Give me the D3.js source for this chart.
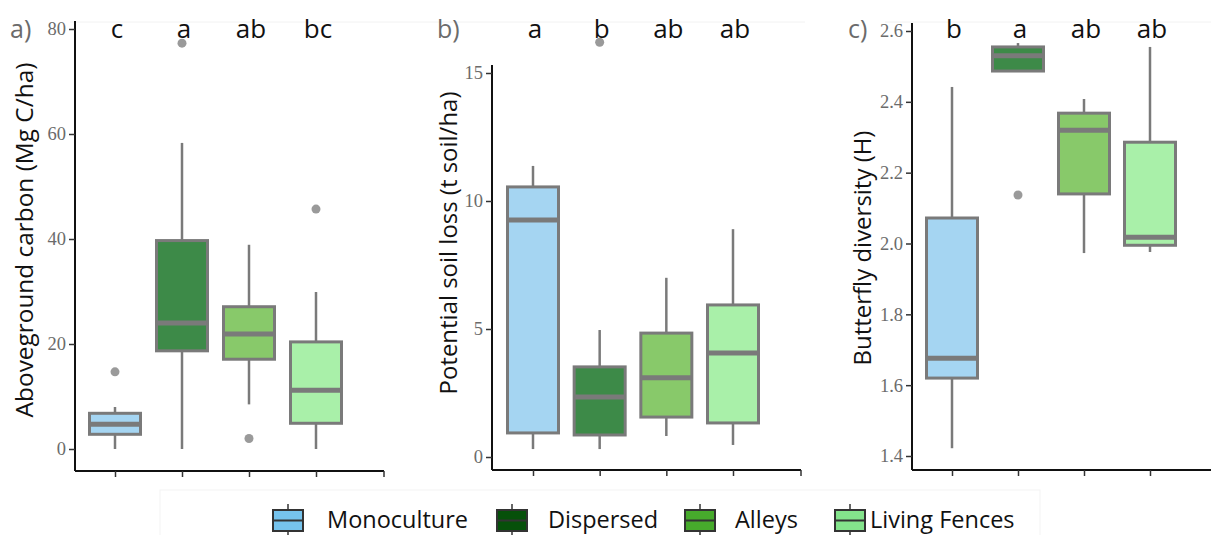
<!DOCTYPE html>
<html><head><meta charset="utf-8">
<script src="https://cdn.jsdelivr.net/npm/d3@7"></script>
<style>body{margin:0;background:#fff}svg{display:block}</style>
</head><body><svg id="c" width="1211" height="535"></svg>
<script>
const categories = ["Monoculture","Dispersed","Alleys","Living Fences"];
const fillColors = ["#a5d5f2","#3d8a48","#88c96a","#a9f0a9"];
const legendColors = ["#76c3ec","#06500a","#47aa2c","#84e48c"];

// [whiskerLow, q1, median, q3, whiskerHigh]
const carbonStats = [[0,2.8,4.7,6.8,8],[0,18.7,24,39.7,58.3],[8.5,17.1,21.9,27.1,38.9],[0,4.9,11.2,20.4,29.9]];
const carbonOutliers = [[14.7],[77.3],[2],[45.7]];
const carbonLetters = ["c","a","ab","bc"];
const carbonTicks = [0,20,40,60,80];

const soilStats = [[0.31,0.94,9.26,10.55,11.37],[0.31,0.86,2.34,3.52,4.96],[0.82,1.56,3.1,4.84,7.0],[0.47,1.33,4.06,5.94,8.9]];
const soilOutliers = [[],[16.2],[],[]];
const soilLetters = ["a","b","ab","ab"];
const soilTicks = [0,5,10,15];

const butterflyStats = [[1.422,1.62,1.676,2.072,2.442],[2.487,2.487,2.53,2.555,2.566],[1.973,2.14,2.32,2.368,2.408],[1.976,1.995,2.018,2.286,2.555]];
const butterflyOutliers = [[],[2.137],[],[]];
const butterflyLetters = ["b","a","ab","ab"];
const butterflyTicks = [1.4,1.6,1.8,2.0,2.2,2.4,2.6];

const svg = d3.select("#c");
const sans = "'Open Sans', 'Noto Sans', sans-serif";
const serif = "'Liberation Serif', 'DejaVu Serif', serif";

// faint panel borders
[[70,22,395],[465,22,340],[885,22,326]].forEach(([x,y,w])=>{
  svg.append("line").attr("x1",x).attr("x2",x+w).attr("y1",y).attr("y2",y).attr("stroke","#f2f2f2");
});
svg.append("rect").attr("x",160).attr("y",490).attr("width",880).attr("height",60).attr("fill","none").attr("stroke","#f3f3f3");

const panels = [
  {tag:"a)", tagX:10, stats:carbonStats, outl:carbonOutliers, letters:carbonLetters, ticks:carbonTicks,
   domain:[0,80], yr:[449,29], axX:75, axEnd:384, xr:[115,316], axY:471, fmt:d3.format("d"),
   title:"Aboveground carbon (Mg C/ha)", titleX:23, titleY:240, titleLen:355},
  {tag:"b)", tagX:437, stats:soilStats, outl:soilOutliers, letters:soilLetters, ticks:soilTicks,
   domain:[0,15], yr:[457,73], axX:492, axEnd:801, xr:[533,733], axY:470, fmt:d3.format("d"),
   title:"Potential soil loss (t soil/ha)", titleX:447, titleY:243, titleLen:303},
  {tag:"c)", tagX:848, stats:butterflyStats, outl:butterflyOutliers, letters:butterflyLetters, ticks:butterflyTicks,
   domain:[1.4,2.6], yr:[456,31], axX:912, axEnd:1215, xr:[952,1150], axY:470, fmt:d3.format(".1f"),
   title:"Butterfly diversity (H)", titleX:861, titleY:248, titleLen:235}
];

const boxW = 51;
panels.forEach(p=>{
  const g = svg.append("g");
  const y = d3.scaleLinear().domain(p.domain).range(p.yr);
  const x = d3.scalePoint().domain(categories).range(p.xr);

  // y axis
  const ya = g.append("g").attr("transform",`translate(${p.axX},0)`)
    .call(d3.axisLeft(y).tickValues(p.ticks).tickFormat(p.fmt).tickSize(6).tickPadding(3));
  ya.select(".domain").attr("d",`M0,${p.yr[1]-8}V${p.axY}`).attr("stroke","#111").attr("stroke-width",2);
  ya.selectAll(".tick line").attr("stroke","#333").attr("stroke-width",1.5);
  ya.selectAll(".tick text").attr("font-family",serif).attr("font-size",18.5).attr("fill","#6b6b6b");

  // x axis
  const xa = g.append("g").attr("transform",`translate(0,${p.axY})`)
    .call(d3.axisBottom(x).tickSize(6).tickFormat(""));
  xa.select(".domain").attr("d",`M${p.axX},0H${p.axEnd}`).attr("stroke","#111").attr("stroke-width",2);
  xa.selectAll(".tick line").attr("stroke","#333").attr("stroke-width",1.5);
  if (p.axEnd < 1211) g.append("line").attr("x1",p.axEnd).attr("x2",p.axEnd).attr("y1",p.axY).attr("y2",p.axY+6).attr("stroke","#333").attr("stroke-width",1.5);

  // boxes
  categories.forEach((c,i)=>{
    const s = p.stats[i], cx = x(c);
    g.append("line").attr("x1",cx).attr("x2",cx).attr("y1",y(s[0])).attr("y2",y(s[1])).attr("stroke","#7a7a7a").attr("stroke-width",2.5);
    g.append("line").attr("x1",cx).attr("x2",cx).attr("y1",y(s[3])).attr("y2",y(s[4])).attr("stroke","#7a7a7a").attr("stroke-width",2.5);
    g.append("rect").attr("x",cx-boxW/2).attr("width",boxW).attr("y",y(s[3])).attr("height",y(s[1])-y(s[3]))
      .attr("fill",fillColors[i]).attr("stroke","#7a7a7a").attr("stroke-width",3);
    g.append("line").attr("x1",cx-boxW/2).attr("x2",cx+boxW/2).attr("y1",y(s[2])).attr("y2",y(s[2])).attr("stroke","#7a7a7a").attr("stroke-width",5);
    p.outl[i].forEach(v=>{
      g.append("circle").attr("cx",cx).attr("cy",y(v)).attr("r",4.5).attr("fill","#9a9a9a");
    });
    g.append("text").attr("x",cx+2).attr("y",38).attr("text-anchor","middle").attr("font-family",sans)
      .attr("font-size",26).attr("fill","#111").text(p.letters[i]);
  });

  g.append("text").attr("x",p.tagX).attr("y",38).attr("font-family",sans).attr("font-size",25).attr("fill","#6b6b6b").text(p.tag);

  const t = g.append("text").attr("transform",`translate(${p.titleX},${p.titleY}) rotate(-90)`)
    .attr("text-anchor","middle").attr("dominant-baseline","central").attr("font-family",sans).attr("font-size",21).attr("fill","#111").text(p.title);
  const len = t.node().getComputedTextLength();
  t.attr("font-size", 21*p.titleLen/len);
});

// legend
const legX = [273,497,685,835], legTX = [327,548,735,870];
categories.forEach((c,i)=>{
  const lg = svg.append("g");
  const kx = legX[i], kw = 30;
  lg.append("line").attr("x1",kx+kw/2).attr("x2",kx+kw/2).attr("y1",504).attr("y2",535).attr("stroke","#333").attr("stroke-width",1.5);
  lg.append("rect").attr("x",kx).attr("y",510).attr("width",kw).attr("height",21).attr("fill",legendColors[i]).attr("stroke","#333").attr("stroke-width",2);
  lg.append("line").attr("x1",kx).attr("x2",kx+kw).attr("y1",520.5).attr("y2",520.5).attr("stroke","#333").attr("stroke-width",2);
  lg.append("text").attr("x",legTX[i]).attr("y",528).attr("font-family",sans).attr("font-size",23.5).attr("fill","#111").text(c);
});
</script></body></html>
